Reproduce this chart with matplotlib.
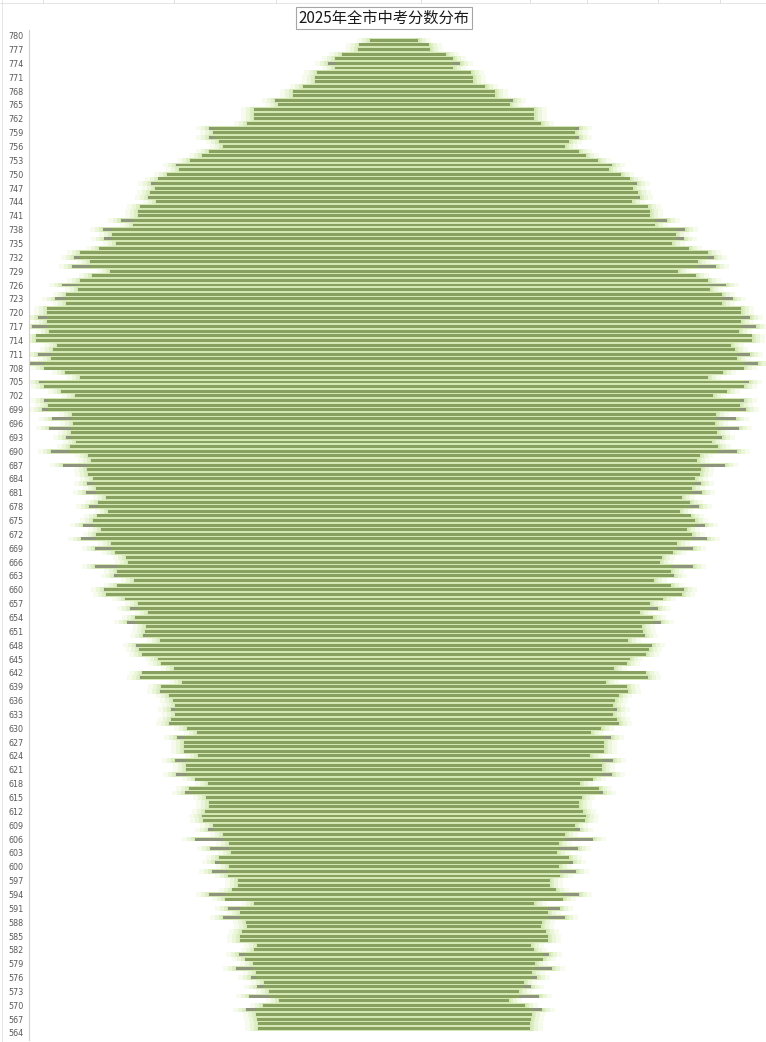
import numpy as np
import matplotlib.pyplot as plt

plt.rcParams['font.family'] = ['Noto Sans CJK SC', 'DejaVu Sans']

# 分数 780 -> 564
scores = list(range(780, 563, -1))
# 每个分数的人数(按图中条形半宽估读)
counts = [0,
    24, 35, 36, 52, 59, 66, 59, 77, 79, 79, 91, 101, 101, 119,
    116, 140, 140, 140, 147, 185, 181, 185, 175, 171, 185, 192, 204, 218, 215, 227, 236, 243, 239,
    244, 246, 238, 254, 256, 256, 273, 261, 291, 282, 290, 278, 295, 314, 320, 304, 322, 284, 302, 314,
    332, 316, 328, 339, 328, 347, 347, 356, 347, 362, 345, 358, 358, 337, 341, 356, 343, 364, 350,
    329, 314, 355, 350, 333, 319, 350, 346, 352, 322, 342, 321, 345, 323, 328, 318, 324, 343, 306, 303,
    331, 307, 306, 301, 307, 298, 308, 288, 296, 305, 286, 297, 301, 311, 293, 298, 313, 283, 299,
    279, 268, 266, 299, 277, 280, 260, 277, 290, 288, 269, 256, 264, 246, 259, 267, 248, 249, 251, 234,
    258, 255, 252, 236, 233, 220, 252, 254, 212, 233, 234, 225, 221, 219, 223, 219, 223, 225, 207,
    197, 217, 210, 210, 210, 196, 219, 208, 208, 218, 199, 186, 205, 209, 188, 185, 185, 189, 192, 191,
    181, 186, 171, 199, 165, 184, 163, 175, 179, 165, 182, 166, 156, 156, 162, 185, 169, 140, 166,
    154, 171, 148, 147, 152, 154, 154, 137, 140, 155, 149, 141, 158, 138, 143, 130, 137, 125, 145,
    115, 131, 148, 138, 137, 136, 136,
    0]
tick_labels = [str(s) for s in scores[::3]]

W, H = 766, 1042
fig = plt.figure(figsize=(W / 100, H / 100), dpi=100)

# 表格背景的格线
for gx in [43, 174, 276, 421, 530, 587, 658, 720]:
    fig.add_artist(plt.Line2D([gx / W, gx / W], [1 - 3 / H, 1], color='#d9d9d9', lw=0.6))
fig.add_artist(plt.Line2D([0, 1], [1 - 3 / H, 1 - 3 / H], color='#e0e0e0', lw=0.6))
fig.add_artist(plt.Line2D([2 / W, 2 / W], [0, 1], color='#e0e0e0', lw=0.6))

ax = fig.add_axes([29 / W, 1 - 1040 / H, (W - 29) / W, 1010 / H])

v = np.array(counts, dtype=float)
y = np.arange(len(scores))

# 邻居最大值, 用来区分绿色/灰色部分
nb = np.maximum(np.r_[0, v[:-1]], np.r_[v[1:], 0])
inner = np.minimum(v, nb)

# 光晕
for extra, col in [(13, '#f6fbee'), (8, '#ebf5da'), (4, '#deeec4'), (1.5, '#d3e8b2')]:
    w = np.where(v > 0, v + extra, 0)
    ax.barh(y, 2 * w, left=-w, height=1.0, color=col, linewidth=0)
ax.barh(y, 2 * v, left=-v, height=0.64, color='#8d937c', linewidth=0)
ax.barh(y, 2 * inner, left=-inner, height=0.64, color='#88a060', linewidth=0)

ax.set_xlim(-365, 372)
ax.set_ylim(217.52, -1.235)
ax.set_yticks(y[::3])
ax.set_yticklabels(tick_labels, fontsize=5.8, color='#595959', family='DejaVu Sans')
ax.tick_params(axis='y', length=0, pad=4)
ax.set_xticks([])
for s in ['top', 'right', 'bottom']:
    ax.spines[s].set_visible(False)
ax.spines['left'].set_color('#d0d0d0')
ax.spines['left'].set_linewidth(0.8)

fig.text(384 / W, 1 - 18 / H, '2025年全市中考分数分布', ha='center', va='center',
         fontsize=11, color='#1a1a1a',
         bbox=dict(boxstyle='square,pad=0.15', fc='white', ec='#a6a6a6', lw=0.8))

fig.savefig('out.png', dpi=100)
